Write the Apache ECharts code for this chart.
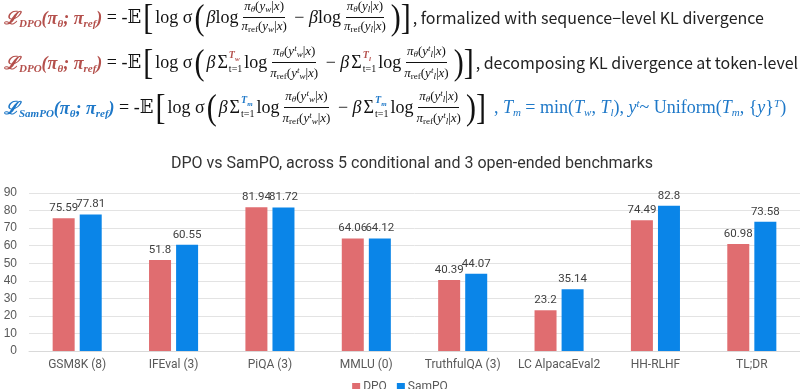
<!DOCTYPE html>
<html>
<head>
<meta charset="utf-8">
<script src="https://cdn.jsdelivr.net/npm/echarts@6/dist/echarts.min.js"></script>
<style>
html,body{margin:0;padding:0;background:#fff;width:800px;height:389px;overflow:hidden;}
#chart{position:absolute;left:0;top:0;width:800px;height:389px;}
.line{position:absolute;left:4px;height:42px;display:flex;align-items:center;white-space:nowrap;
  font-family:"Liberation Serif","DejaVu Serif",serif;font-size:18px;color:#111;}
.red{color:#B4504C;}
.blue{color:#1E78C8;}
.b{font-weight:bold;}
.i{font-style:italic;}
.line sub{font-size:11px;vertical-align:-3px;}
.line sup{font-size:11px;vertical-align:6px;}
.big{font-size:30px;line-height:30px;transform:scaleY(1.2);display:inline-block;margin:0 2px;}
.frac{display:inline-flex;flex-direction:column;align-items:center;font-size:13px;line-height:15px;margin:0 2px;}
.frac .n{border-bottom:1px solid #111;padding:0 1px;}
.frac .d{padding:0 1px;}
.frac sub{font-size:9px;vertical-align:-2px;}
.frac sup{font-size:9px;vertical-align:4px;}
.sum{display:inline-flex;align-items:center;margin:0 2px;}
.lim{display:inline-flex;flex-direction:column;font-size:10px;line-height:10px;margin-left:1px;}
.sans{font-family:"Noto Sans CJK SC","Noto Sans",sans-serif;font-size:16px;color:#222;}
.lim .t{font-style:italic;font-weight:bold;}
.tail{font-size:18px;margin-left:6px;}
.tail sub{font-size:11px;}
.tail sup{font-size:11px;}
</style>
</head>
<body>
<div id="chart"></div>

<div class="line" style="top:-4px">
  <span class="red b i">ℒ<sub>DPO</sub>(π<sub>θ</sub>; π<sub>ref</sub>)</span>
  <span>&nbsp;= -𝔼</span>
  <span class="big">[</span><span>log σ</span><span class="big">(</span>
  <span><i>β</i>log</span>
  <span class="frac"><span class="n"><i>π<sub>θ</sub></i>(<i>y<sub>w</sub></i>|<i>x</i>)</span><span class="d"><i>π</i><sub>ref</sub>(<i>y<sub>w</sub></i>|<i>x</i>)</span></span>
  <span>&nbsp;− <i>β</i>log</span>
  <span class="frac"><span class="n"><i>π<sub>θ</sub></i>(<i>y<sub>l</sub></i>|<i>x</i>)</span><span class="d"><i>π</i><sub>ref</sub>(<i>y<sub>l</sub></i>|<i>x</i>)</span></span>
  <span class="big">)</span><span class="big" style="margin-left:-2px">]</span>
  <span class="sans">, formalized with sequence−level KL divergence</span>
</div>

<div class="line" style="top:41px">
  <span class="red b i">ℒ<sub>DPO</sub>(π<sub>θ</sub>; π<sub>ref</sub>)</span>
  <span>&nbsp;= -𝔼</span>
  <span class="big">[</span><span>log σ</span><span class="big">(</span>
  <span><i>β</i></span>
  <span class="sum">Σ<span class="lim"><span class="t red">T<sub style="font-size:7px">w</sub></span><span>t=1</span></span></span>
  <span>log</span>
  <span class="frac"><span class="n"><i>π<sub>θ</sub></i>(<i>y<sup>t</sup><sub>w</sub></i>|<i>x</i>)</span><span class="d"><i>π</i><sub>ref</sub>(<i>y<sup>t</sup><sub>w</sub></i>|<i>x</i>)</span></span>
  <span>&nbsp;− <i>β</i></span>
  <span class="sum">Σ<span class="lim"><span class="t red">T<sub style="font-size:7px">l</sub></span><span>t=1</span></span></span>
  <span>log</span>
  <span class="frac"><span class="n"><i>π<sub>θ</sub></i>(<i>y<sup>t</sup><sub>l</sub></i>|<i>x</i>)</span><span class="d"><i>π</i><sub>ref</sub>(<i>y<sup>t</sup><sub>l</sub></i>|<i>x</i>)</span></span>
  <span class="big">)</span><span class="big" style="margin-left:-2px">]</span>
  <span class="sans">, decomposing KL divergence at token-level</span>
</div>

<div class="line" style="top:86px">
  <span class="blue b i">ℒ<sub>SamPO</sub>(π<sub>θ</sub>; π<sub>ref</sub>)</span>
  <span>&nbsp;= -𝔼</span>
  <span class="big">[</span><span>log σ</span><span class="big">(</span>
  <span><i>β</i></span>
  <span class="sum">Σ<span class="lim"><span class="t blue">T<sub style="font-size:7px">m</sub></span><span>t=1</span></span></span>
  <span>log</span>
  <span class="frac"><span class="n"><i>π<sub>θ</sub></i>(<i>y<sup>t</sup><sub>w</sub></i>|<i>x</i>)</span><span class="d"><i>π</i><sub>ref</sub>(<i>y<sup>t</sup><sub>w</sub></i>|<i>x</i>)</span></span>
  <span>&nbsp;− <i>β</i></span>
  <span class="sum">Σ<span class="lim"><span class="t blue">T<sub style="font-size:7px">m</sub></span><span>t=1</span></span></span>
  <span>log</span>
  <span class="frac"><span class="n"><i>π<sub>θ</sub></i>(<i>y<sup>t</sup><sub>l</sub></i>|<i>x</i>)</span><span class="d"><i>π</i><sub>ref</sub>(<i>y<sup>t</sup><sub>l</sub></i>|<i>x</i>)</span></span>
  <span class="big">)</span><span class="big" style="margin-left:-2px">]</span>
  <span class="blue tail">, <i>T<sub>m</sub></i> = min(<i>T<sub>w</sub></i>, <i>T<sub>l</sub></i>), <i>y<sup>t</sup></i>~ Uniform(<i>T<sub>m</sub></i>, {<i>y</i>}<sup><i>T</i></sup>)</span>
</div>

<script>
var categories = ['GSM8K (8)', 'IFEval (3)', 'PiQA (3)', 'MMLU (0)', 'TruthfulQA (3)', 'LC AlpacaEval2', 'HH-RLHF', 'TL;DR'];
var dpoValues = [75.59, 51.8, 81.94, 64.06, 40.39, 23.2, 74.49, 60.98];
var sampoValues = [77.81, 60.55, 81.72, 64.12, 44.07, 35.14, 82.8, 73.58];
var seriesNames = ['DPO', 'SamPO'];
var chartTitle = 'DPO vs SamPO, across 5 conditional and 3 open-ended benchmarks';

var chart = echarts.init(document.getElementById('chart'), null, {renderer: 'canvas'});
var labelStyle = {show: true, position: 'top', distance: 4, color: '#404040', fontSize: 11.5, fontFamily: 'Roboto, Liberation Sans, sans-serif'};
chart.setOption({
  animation: false,
  title: {
    text: chartTitle,
    left: 407, top: 151, textAlign: 'center',
    textStyle: {fontSize: 16, fontWeight: 'normal', color: '#333', fontFamily: 'Roboto, Noto Sans, sans-serif'}
  },
  legend: {
    data: seriesNames,
    top: 376, left: 'center',
    itemWidth: 8, itemHeight: 8, itemGap: 10,
    icon: 'rect',
    textStyle: {fontSize: 12, color: '#595959', fontFamily: 'Roboto, sans-serif', padding: [0, 0, 0, -2]}
  },
  grid: {left: 29, right: 0, top: 193, bottom: 38, containLabel: false},
  xAxis: {
    type: 'category', data: categories,
    axisTick: {show: false},
    axisLine: {lineStyle: {color: '#D9D9D9'}},
    axisLabel: {color: '#595959', fontSize: 12, margin: 8, interval: 0, fontFamily: 'Roboto, sans-serif'}
  },
  yAxis: {
    type: 'value', min: 0, max: 90, interval: 10,
    axisLine: {show: false}, axisTick: {show: false},
    axisLabel: {color: '#595959', fontSize: 12, margin: 12, fontFamily: 'Liberation Sans, Arial, sans-serif'},
    splitLine: {lineStyle: {color: '#E3E3E3'}}
  },
  series: [
    {name: seriesNames[0], type: 'bar', data: dpoValues, barWidth: 22, barGap: '23%', itemStyle: {color: '#E06D70'}, label: labelStyle},
    {name: seriesNames[1], type: 'bar', data: sampoValues, barWidth: 22, itemStyle: {color: '#0A85E8'}, label: labelStyle}
  ]
});
</script>
</body>
</html>
